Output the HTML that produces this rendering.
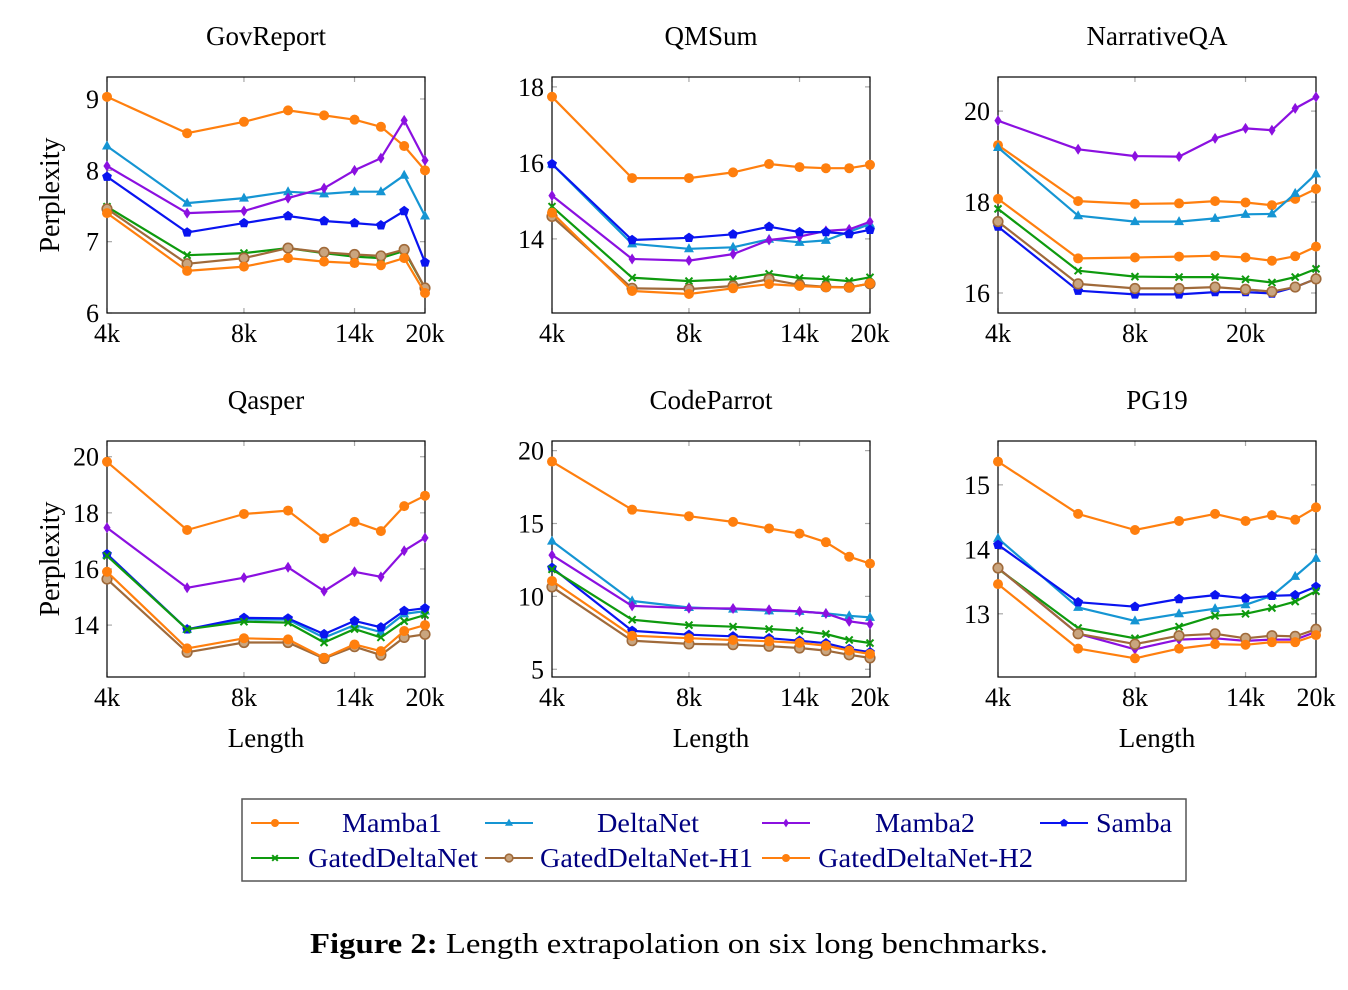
<!DOCTYPE html>
<html><head><meta charset="utf-8">
<style>
html,body{margin:0;padding:0;background:#fff;}
svg{display:block;font-family:"Liberation Serif","DejaVu Serif",serif;}
</style></head>
<body>
<svg id="fig" width="1348" height="990" viewBox="0 0 1348 990" xmlns="http://www.w3.org/2000/svg"></svg>
<script>
const lengths = [4,6,8,10,12,14,16,18,20];
const seriesNames = ["Mamba1","DeltaNet","Mamba2","Samba","GatedDeltaNet","GatedDeltaNet-H1","GatedDeltaNet-H2"];

const gov_mamba1 = [9.03,8.52,8.68,8.84,8.77,8.71,8.61,8.34,8.0];
const gov_deltanet = [8.34,7.54,7.61,7.70,7.67,7.70,7.70,7.93,7.36];
const gov_mamba2 = [8.06,7.40,7.43,7.61,7.75,8.0,8.17,8.70,8.14];
const gov_samba = [7.91,7.13,7.26,7.36,7.29,7.26,7.23,7.43,6.71];
const gov_gdn = [7.49,6.81,6.84,6.91,6.84,6.79,6.77,6.87,6.35];
const gov_h1 = [7.46,6.69,6.77,6.91,6.85,6.82,6.80,6.89,6.35];
const gov_h2 = [7.40,6.59,6.65,6.77,6.72,6.70,6.67,6.77,6.28];

const qm_mamba1 = [17.74,15.6,15.6,15.75,15.97,15.89,15.86,15.86,15.95];
const qm_deltanet = [15.97,13.87,13.74,13.78,13.99,13.91,13.96,14.19,14.39];
const qm_mamba2 = [15.14,13.47,13.43,13.6,13.97,14.06,14.21,14.25,14.45];
const qm_samba = [15.97,13.97,14.03,14.12,14.32,14.18,14.18,14.13,14.24];
const qm_gdn = [14.85,12.98,12.89,12.94,13.08,12.97,12.94,12.89,12.99];
const qm_h1 = [14.59,12.70,12.68,12.76,12.94,12.79,12.74,12.73,12.82];
const qm_h2 = [14.69,12.63,12.55,12.70,12.81,12.76,12.73,12.72,12.83];

const nqa_mamba1 = [19.25,18.02,17.96,17.97,18.02,17.99,17.93,18.07,18.29];
const nqa_deltanet = [19.2,17.7,17.57,17.57,17.64,17.73,17.74,18.19,18.62];
const nqa_mamba2 = [19.79,19.16,19.01,19.0,19.4,19.62,19.58,20.06,20.31];
const nqa_samba = [17.46,16.05,15.97,15.97,16.02,16.02,15.99,16.13,16.31];
const nqa_gdn = [17.85,16.49,16.36,16.35,16.35,16.3,16.23,16.35,16.53];
const nqa_h1 = [17.57,16.2,16.1,16.1,16.13,16.08,16.03,16.13,16.31];
const nqa_h2 = [18.07,16.76,16.78,16.8,16.82,16.78,16.71,16.81,17.02];

const qas_mamba1 = [19.82,17.39,17.96,18.08,17.09,17.68,17.35,18.24,18.61];
const qas_deltanet = [16.5,13.85,14.2,14.2,13.55,14.0,13.75,14.4,14.5];
const qas_mamba2 = [17.47,15.33,15.69,16.06,15.21,15.9,15.72,16.65,17.11];
const qas_samba = [16.53,13.85,14.26,14.24,13.68,14.15,13.92,14.51,14.6];
const qas_gdn = [16.47,13.85,14.12,14.09,13.38,13.86,13.56,14.14,14.36];
const qas_h1 = [15.64,13.03,13.38,13.38,12.81,13.23,12.93,13.56,13.67];
const qas_h2 = [15.9,13.17,13.53,13.49,12.83,13.31,13.07,13.79,14.0];

const cp_mamba1 = [19.25,15.95,15.5,15.11,14.66,14.31,13.72,12.72,12.25];
const cp_deltanet = [13.79,9.69,9.24,9.13,9.01,8.97,8.83,8.67,8.56];
const cp_mamba2 = [12.83,9.35,9.19,9.17,9.08,8.97,8.83,8.29,8.1];
const cp_samba = [11.97,7.64,7.37,7.26,7.13,6.96,6.79,6.4,6.17];
const cp_gdn = [11.86,8.4,8.03,7.92,7.76,7.64,7.42,7.01,6.8];
const cp_h1 = [10.65,6.96,6.74,6.69,6.58,6.46,6.28,5.99,5.78];
const cp_h2 = [11.06,7.3,7.13,7.01,6.92,6.81,6.62,6.28,6.05];

const pg_mamba1 = [15.36,14.55,14.3,14.44,14.55,14.44,14.53,14.46,14.65];
const pg_deltanet = [14.17,13.1,12.89,13.0,13.08,13.14,13.28,13.58,13.86];
const pg_mamba2 = [13.71,12.69,12.45,12.6,12.62,12.58,12.6,12.6,12.72];
const pg_samba = [14.07,13.18,13.11,13.23,13.29,13.24,13.28,13.29,13.42];
const pg_gdn = [13.7,12.78,12.62,12.8,12.97,13.0,13.09,13.19,13.35];
const pg_h1 = [13.71,12.69,12.53,12.66,12.69,12.62,12.66,12.65,12.76];
const pg_h2 = [13.46,12.46,12.31,12.46,12.53,12.52,12.56,12.56,12.67];

const titles = ["GovReport","QMSum","NarrativeQA","Qasper","CodeParrot","PG19"];
const gov_yticks = [6,7,8,9];
const qm_yticks = [14,16,18];
const nqa_yticks = [16,18,20];
const qas_yticks = [14,16,18,20];
const cp_yticks = [5,10,15,20];
const pg_yticks = [13,14,15];
const xtickVals = [4,8,14,20];
const xtickLabels = ["4k","8k","14k","20k"];
const nqa_xtickVals = [4,8,14];
const nqa_xtickLabels = ["4k","8k","20k"];

const colors = ["#ff7f0e","#1595d3","#8b10e0","#0a14f0","#0e9a0e","#a06a3a","#ff7f0e"];
const markers = ["circle","triangle","diamond","pentagon","cross","ocircle","circle"];

const panels = [
 {name:"govreport", title:titles[0], x0:107,x1:425,y0:77,y1:313, ymin:6.0, ymax:9.308, yt:gov_yticks, xt:xtickVals, xl:xtickLabels, data:[gov_mamba1,gov_deltanet,gov_mamba2,gov_samba,gov_gdn,gov_h1,gov_h2], ylab:true, xlab:false},
 {name:"qmsum", title:titles[1], x0:552,x1:870,y0:77,y1:313, ymin:12.05, ymax:18.26, yt:qm_yticks, xt:xtickVals, xl:xtickLabels, data:[qm_mamba1,qm_deltanet,qm_mamba2,qm_samba,qm_gdn,qm_h1,qm_h2], ylab:false, xlab:false},
 {name:"narrativeqa", title:titles[2], x0:998,x1:1316,y0:77,y1:313, ymin:15.56, ymax:20.75, yt:nqa_yticks, xt:nqa_xtickVals, xl:nqa_xtickLabels, data:[nqa_mamba1,nqa_deltanet,nqa_mamba2,nqa_samba,nqa_gdn,nqa_h1,nqa_h2], ylab:false, xlab:false},
 {name:"qasper", title:titles[3], x0:107,x1:425,y0:441,y1:677, ymin:12.15, ymax:20.56, yt:qas_yticks, xt:xtickVals, xl:xtickLabels, data:[qas_mamba1,qas_deltanet,qas_mamba2,qas_samba,qas_gdn,qas_h1,qas_h2], ylab:true, xlab:true},
 {name:"codeparrot", title:titles[4], x0:552,x1:870,y0:441,y1:677, ymin:4.47, ymax:20.66, yt:cp_yticks, xt:xtickVals, xl:xtickLabels, data:[cp_mamba1,cp_deltanet,cp_mamba2,cp_samba,cp_gdn,cp_h1,cp_h2], ylab:false, xlab:true},
 {name:"pg19", title:titles[5], x0:998,x1:1316,y0:441,y1:677, ymin:12.02, ymax:15.68, yt:pg_yticks, xt:xtickVals, xl:xtickLabels, data:[pg_mamba1,pg_deltanet,pg_mamba2,pg_samba,pg_gdn,pg_h1,pg_h2], ylab:false, xlab:true}
];

const NS = "http://www.w3.org/2000/svg";
const svg = document.getElementById("fig");
function mk(tag, attrs, parent){
  const e = document.createElementNS(NS, tag);
  for (const k in attrs) e.setAttribute(k, attrs[k]);
  (parent||svg).appendChild(e);
  return e;
}
function marker(g, type, x, y, color, s){
  s = s||1;
  let m;
  if (type==="circle") m = mk("circle",{cx:x,cy:y,r:5*s,fill:color},g);
  else if (type==="triangle") m = mk("polygon",{points:`${x},${y-5.5*s} ${x+5*s},${y+3.5*s} ${x-5*s},${y+3.5*s}`,fill:color},g);
  else if (type==="diamond") m = mk("polygon",{points:`${x},${y-5.5*s} ${x+3.6*s},${y} ${x},${y+5.5*s} ${x-3.6*s},${y}`,fill:color},g);
  else if (type==="pentagon"){
    let pts=[];for(let i=0;i<5;i++){const a=-Math.PI/2+i*2*Math.PI/5;pts.push((x+5.2*s*Math.cos(a)).toFixed(1)+","+(y+5.2*s*Math.sin(a)).toFixed(1));}
    m = mk("polygon",{points:pts.join(" "),fill:color},g);
  } else if (type==="cross"){
    m = mk("path",{d:`M${x-3.5*s},${y-3.5*s}L${x+3.5*s},${y+3.5*s}M${x+3.5*s},${y-3.5*s}L${x-3.5*s},${y+3.5*s}`,stroke:color,"stroke-width":2,fill:"none"},g);
  } else if (type==="ocircle"){
    m = mk("circle",{cx:x,cy:y,r:4.8*s,fill:"#c9a57f",stroke:color,"stroke-width":1.6},g);
  }
  
  
  return m;
}

panels.forEach((p, pi) => {
  const g = mk("g",{});
  
  
  const L0 = Math.log(4), L1 = Math.log(20);
  const xs = v => p.x0 + (Math.log(v)-L0)/(L1-L0)*(p.x1-p.x0);
  const ys = v => p.y1 - (v-p.ymin)/(p.ymax-p.ymin)*(p.y1-p.y0);
  p.xt.forEach((v,i) => {
    const x = xs(v);
    const t1 = mk("line",{x1:x,y1:p.y1,x2:x,y2:p.y1-5,stroke:"#a8a8a8","stroke-width":1.2},g);
    
    
    mk("line",{x1:x,y1:p.y0,x2:x,y2:p.y0+5,stroke:"#a8a8a8","stroke-width":1.2},g);
    const tl = mk("text",{x:x,y:p.y1+29,"text-anchor":"middle","font-size":26,fill:"#000"},g);
    tl.textContent = p.xl[i];
    
    
  });
  p.yt.forEach(v => {
    const y = ys(v);
    const t1 = mk("line",{x1:p.x0,y1:y,x2:p.x0+5,y2:y,stroke:"#a8a8a8","stroke-width":1.2},g);
    
    
    mk("line",{x1:p.x1,y1:y,x2:p.x1-5,y2:y,stroke:"#a8a8a8","stroke-width":1.2},g);
    const tl = mk("text",{x:p.x0-8,y:y+9,"text-anchor":"end","font-size":26,fill:"#000"},g);
    tl.textContent = String(v);
    
    
  });
  const fr = mk("rect",{x:p.x0,y:p.y0,width:p.x1-p.x0,height:p.y1-p.y0,fill:"none",stroke:"#000","stroke-width":1.2},g);
  
  
  p.data.forEach((arr, si) => {
    const sg = mk("g",{},g);
    
    
    const d = arr.map((v,i)=>(i?"L":"M")+xs(lengths[i]).toFixed(1)+","+ys(v).toFixed(1)).join("");
    const ln = mk("path",{d:d,fill:"none",stroke:colors[si],"stroke-width":2.2,"stroke-linejoin":"round"},sg);
    
    
    arr.forEach((v,i)=>marker(sg, markers[si], xs(lengths[i]), ys(v), colors[si], 1));
  });
  const tt = mk("text",{x:(p.x0+p.x1)/2,y:p.y0-32,"text-anchor":"middle","font-size":27,fill:"#000"},g);
  tt.textContent = p.title;
  
  
  if (p.ylab){
    const cy = (p.y0+p.y1)/2;
    const yl = mk("text",{x:0,y:0,"text-anchor":"middle","font-size":28,fill:"#000",transform:`translate(59,${cy}) rotate(-90)`},g);
    yl.textContent = "Perplexity";
    
    
  }
  if (p.xlab){
    const xl = mk("text",{x:(p.x0+p.x1)/2,y:p.y1+70,"text-anchor":"middle","font-size":27,fill:"#000"},g);
    xl.textContent = "Length";
    
    
  }
});

const lg = mk("g",{});


const lbox = mk("rect",{x:242,y:799,width:944,height:82,fill:"#fff",stroke:"#555","stroke-width":1.5},lg);


const legendLineX = [251,485,762,1040,251,485,762];
const legendRowY = [823,823,823,823,858,858,858];
const legendTextX = [342,597,875,1096,308,540,818];
const legendTextW = [100,102,100,76,170,213,215];
seriesNames.forEach((n,i)=>{
  const eg = mk("g",{},lg);
  
  
  const x = legendLineX[i], y = legendRowY[i];
  mk("line",{x1:x,y1:y,x2:x+48,y2:y,stroke:colors[i],"stroke-width":2},eg);
  marker(eg, markers[i], x+24, y, colors[i], 0.8);
  const t = mk("text",{x:legendTextX[i],y:y+9,"text-anchor":"start","font-size":27,fill:"#000080",textLength:legendTextW[i],lengthAdjust:"spacingAndGlyphs"},eg);
  t.textContent = n;
  
  
});

const cap = mk("text",{x:310,y:953,"text-anchor":"start","font-size":29,fill:"#000",textLength:738,lengthAdjust:"spacingAndGlyphs"});


const b = mk("tspan",{"font-weight":"bold"},cap); b.textContent = "Figure 2:";
const r = mk("tspan",{},cap); r.textContent = " Length extrapolation on six long benchmarks.";
</script>
</body></html>
